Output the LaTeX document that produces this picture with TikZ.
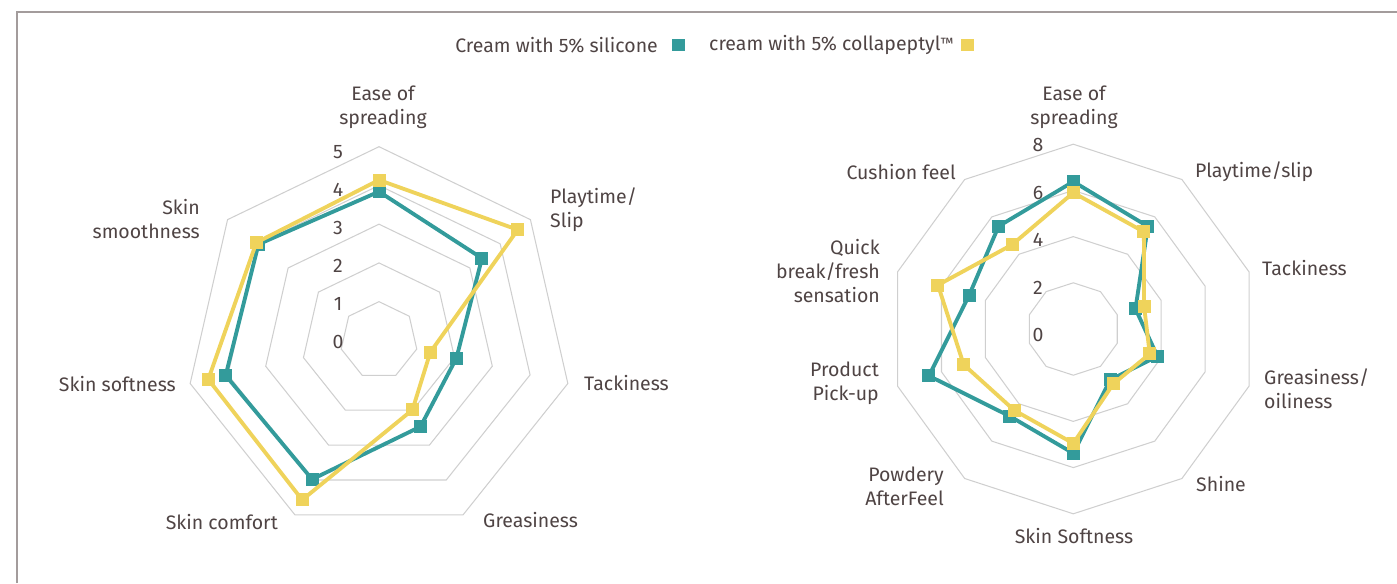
\documentclass[tikz,border=0pt]{standalone}
\usepackage{fontspec}
\setmainfont{Fira Sans}
\usetikzlibrary{calc}

\definecolor{silic}{HTML}{339B9B}
\definecolor{collag}{HTML}{EFD35B}
\definecolor{ringgray}{HTML}{CFCFCF}
\definecolor{labtext}{HTML}{4F4444}
\definecolor{framegray}{HTML}{A39C9C}

\begin{document}
\begin{tikzpicture}[x=0.02cm,y=0.02cm,
                    every node/.style={text=labtext,font=\fontsize{11.1}{13.7}\selectfont}]
  \tikzstyle{ring}=[draw=ringgray,line width=0.6pt]
  \tikzstyle{series}=[line width=2.2pt,line join=round]
  \tikzstyle{marker}=[rectangle,inner sep=0pt,minimum size=0.26cm]

  \useasboundingbox (0,0) rectangle (1397,583);
  \draw[framegray,line width=0.8pt] (17,0) -- (17,571) -- (1397,571);

  % legend
  \node[anchor=east] (legS) at (664,538) {Cream with 5\% silicone};
  \node[marker,fill=silic] (legSbox) at (678,538) {};
  \node[anchor=west] (legC) at (703,538) {cream with 5\% collapeptyl\raisebox{1pt}{\fontsize{8.5}{8.5}\selectfont ™}};
  \node[marker,fill=collag] (legCbox) at (967,538) {};

  % left chart, 7 axes
  \begin{scope}[shift={(379,242.6)}]
    \foreach \r in {1,...,5}
      \draw[ring] (90:\r*38.74) \foreach \k in {1,...,6}{ -- (90-\k*360/7:\r*38.74)} -- cycle;
    \foreach \v [count=\k from 0] in {3.84,3.40,2.05,2.47,3.98,4.06,3.98}
      \coordinate (Ls\k) at (90-\k*360/7:\v*38.74);
    \foreach \v [count=\k from 0] in {4.14,4.58,1.36,1.99,4.57,4.52,4.05}
      \coordinate (Lc\k) at (90-\k*360/7:\v*38.74);
    \draw[series,silic] (Ls0) \foreach \k in {1,...,6}{ -- (Ls\k)} -- cycle;
    \foreach \k in {0,...,6} \node[marker,fill=silic] (Lsm\k) at (Ls\k) {};
    \draw[series,collag] (Lc0) \foreach \k in {1,...,6}{ -- (Lc\k)} -- cycle;
    \foreach \k in {0,...,6} \node[marker,fill=collag] (Lcm\k) at (Lc\k) {};
  \end{scope}
  \foreach \t in {0,...,5}
    \node (Ltick\t) at (338,{241+38*\t}) {\t};

  \node[align=center] (easeL) at (383,476) {Ease of\\spreading};
  \node[anchor=west,align=left] (playL) at (544,373.5) {Playtime/\\Slip};
  \node[anchor=west] (tackL) at (578,200) {Tackiness};
  \node[anchor=west] (greaseL) at (477,63) {Greasiness};
  \node[anchor=east] (comfortL) at (284,61) {Skin comfort};
  \node[anchor=east] (softL) at (182,199) {Skin softness};
  \node[anchor=east,align=right] (smoothL) at (206,364) {Skin\\smoothness};

  % right chart, 10 axes
  \begin{scope}[shift={(1073.3,254)}]
    \foreach \r in {2,4,6,8}
      \draw[ring] (90:\r*23.1) \foreach \k in {1,...,9}{ -- (90-\k*36:\r*23.1)} -- cycle;
    \foreach \v [count=\k from 0] in {6.38,5.49,2.83,3.83,2.72,5.38,4.67,6.57,4.74,5.50}
      \coordinate (Rs\k) at (90-\k*36:\v*23.1);
    \foreach \v [count=\k from 0] in {5.90,5.20,3.22,3.48,2.94,4.95,4.35,4.99,6.16,4.51}
      \coordinate (Rc\k) at (90-\k*36:\v*23.1);
    \draw[series,silic] (Rs0) \foreach \k in {1,...,9}{ -- (Rs\k)} -- cycle;
    \foreach \k in {0,...,9} \node[marker,fill=silic] (Rsm\k) at (Rs\k) {};
    \draw[series,collag] (Rc0) \foreach \k in {1,...,9}{ -- (Rc\k)} -- cycle;
    \foreach \k in {0,...,9} \node[marker,fill=collag] (Rcm\k) at (Rc\k) {};
  \end{scope}
  \foreach \t in {0,2,4,6,8}
    \node (Rtick\t) at (1038,{248+23.75*\t}) {\t};

  \node[align=center] (easeR) at (1074,476) {Ease of\\spreading};
  \node[anchor=west] (playR) at (1189,411) {Playtime/slip};
  \node[anchor=west] (tackR) at (1256,315) {Tackiness};
  \node[anchor=west,align=left] (greaseR) at (1258,194.5) {Greasiness/\\oiliness};
  \node[anchor=west] (shineR) at (1190,99) {Shine};
  \node (softR) at (1074,47) {Skin Softness};
  \node[anchor=east,align=right] (powderR) at (950,96.5) {Powdery\\AfterFeel};
  \node[anchor=east,align=right] (pickR) at (885,200) {Product\\Pick-up};
  \node[anchor=east,align=right] (quickR) at (886,312) {Quick\\break/fresh\\sensation};
  \node[anchor=east] (cushionR) at (962,411) {Cushion feel};
\end{tikzpicture}
\end{document}
